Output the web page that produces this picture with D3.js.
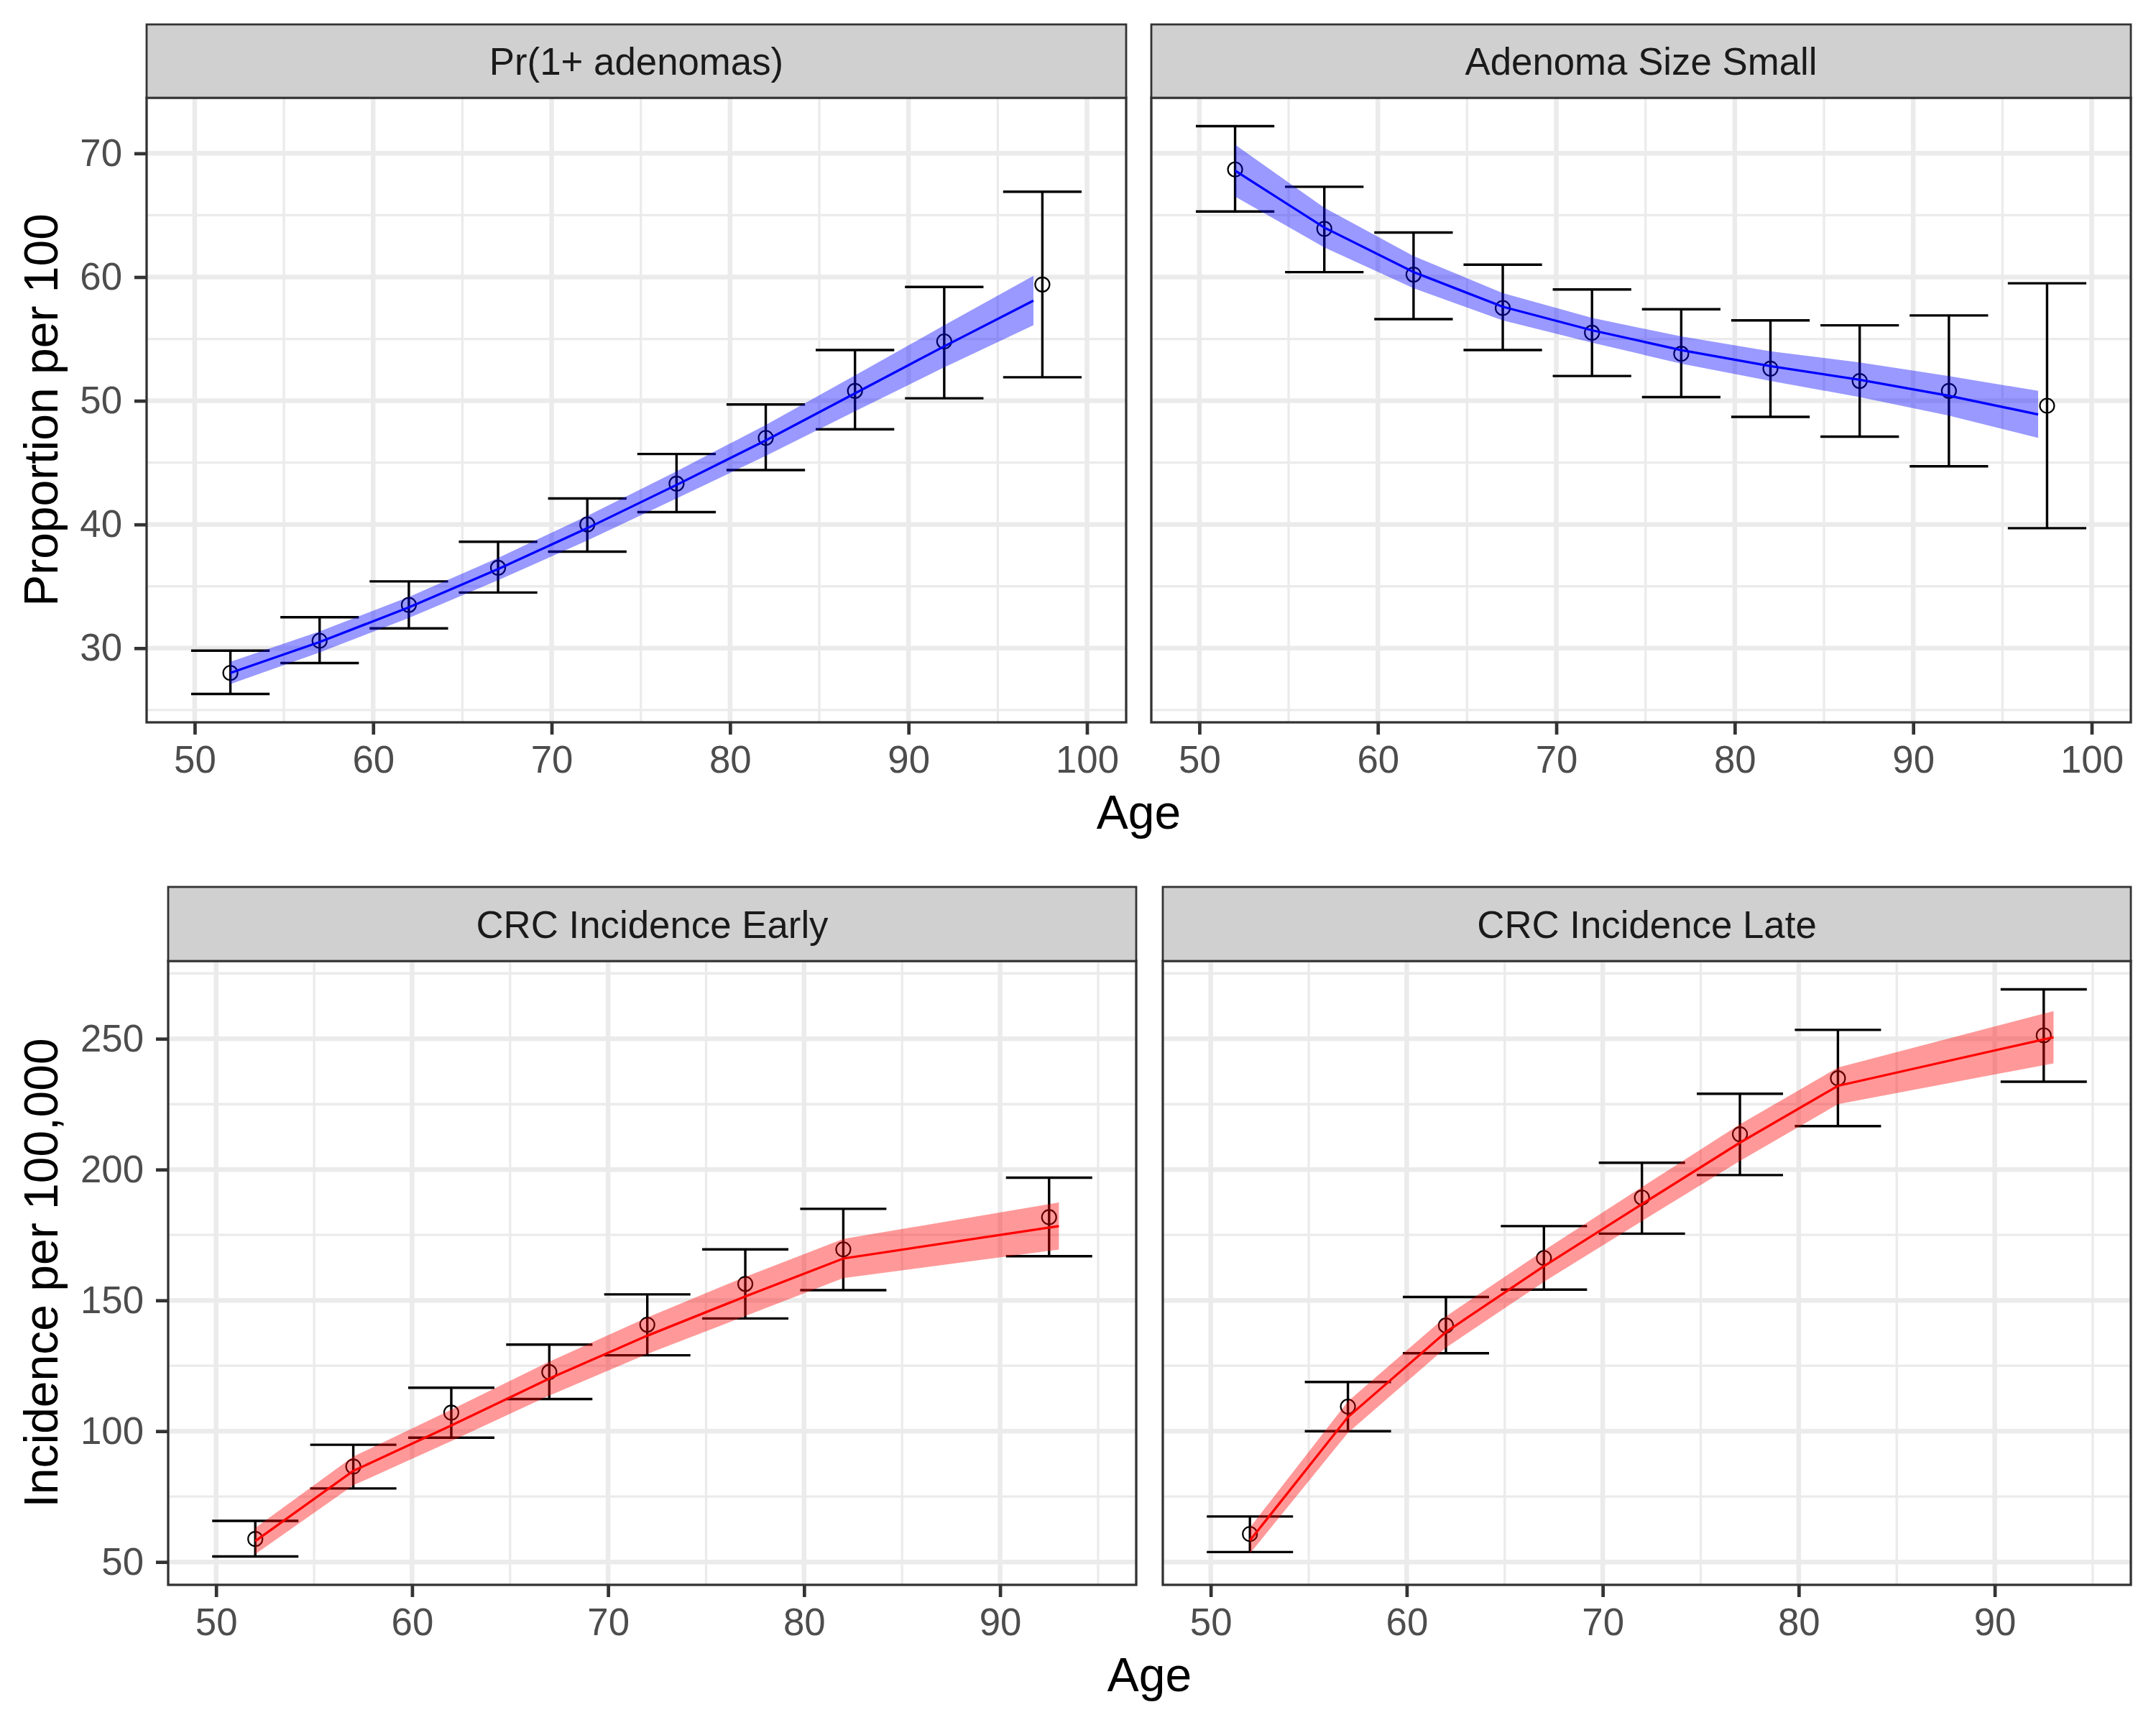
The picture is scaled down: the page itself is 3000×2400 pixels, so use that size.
<!DOCTYPE html>
<html>
<head>
<meta charset="utf-8">
<script src="https://cdn.jsdelivr.net/npm/d3@7"></script>
<style>
  body { margin: 0; background: #fff; }
  text { font-family: "Liberation Sans", Arial, Helvetica, sans-serif; }
</style>
</head>
<body>
<svg id="chart" width="3000" height="2400"></svg>
<script>
// ---- data ----
// top row: observed age groups and model ages
var topObsX = [52, 57, 62, 67, 72, 77, 82, 87, 92, 97.5];
var topFitX = [52, 57, 62, 67, 72, 77, 82, 87, 92, 97];

var adenomaObs = [28.0, 30.6, 33.5, 36.5, 40.0, 43.3, 47.0, 50.8, 54.8, 59.4];
var adenomaLo  = [26.3, 28.8, 31.6, 34.5, 37.8, 41.0, 44.4, 47.7, 50.2, 51.9];
var adenomaHi  = [29.8, 32.5, 35.4, 38.6, 42.1, 45.7, 49.7, 54.1, 59.2, 66.9];
var adenomaFit   = [28.0, 30.5, 33.3, 36.4, 39.7, 43.2, 46.8, 50.6, 54.4, 58.1];
var adenomaFitLo = [27.1, 29.65, 32.45, 35.5, 38.7, 42.1, 45.55, 49.15, 52.7, 56.1];
var adenomaFitHi = [28.9, 31.35, 34.15, 37.3, 40.7, 44.3, 48.05, 52.05, 56.1, 60.1];

var smallObs = [68.7, 63.9, 60.2, 57.5, 55.5, 53.8, 52.6, 51.6, 50.8, 49.6];
var smallLo  = [65.3, 60.4, 56.6, 54.1, 52.0, 50.3, 48.7, 47.1, 44.7, 39.7];
var smallHi  = [72.2, 67.3, 63.6, 61.0, 59.0, 57.4, 56.5, 56.1, 56.9, 59.5];
var smallFit   = [68.6, 64.0, 60.4, 57.6, 55.7, 54.1, 52.8, 51.7, 50.4, 48.9];
var smallFitLo = [66.5, 62.4, 59.1, 56.5, 54.7, 53.0, 51.6, 50.3, 48.8, 47.0];
var smallFitHi = [70.7, 65.6, 61.7, 58.7, 56.7, 55.2, 54.0, 53.1, 52.0, 50.8];

// bottom row
var botObsX = [52, 57, 62, 67, 72, 77, 82, 92.5];
var botFitX = [52, 57, 62, 67, 72, 77, 82, 93];

var earlyObs = [58.8, 86.5, 107.1, 122.6, 140.7, 156.3, 169.5, 181.8];
var earlyLo  = [52.1, 78.1, 97.5, 112.3, 129.0, 143.1, 153.9, 166.9];
var earlyHi  = [65.7, 94.8, 116.6, 133.1, 152.3, 169.5, 185.0, 196.9];
var earlyFit   = [58.0, 84.8, 102.2, 120.1, 136.5, 151.5, 166.0, 178.4];
var earlyFitLo = [53.0, 79.3, 96.2, 113.6, 129.5, 144.0, 158.5, 169.4];
var earlyFitHi = [63.0, 90.3, 108.2, 126.6, 143.5, 159.0, 173.5, 187.4];

var lateObs = [60.7, 109.4, 140.4, 166.2, 189.3, 213.5, 234.9, 251.3];
var lateLo  = [53.8, 100.0, 129.8, 154.1, 175.5, 197.9, 216.6, 233.6];
var lateHi  = [67.4, 118.8, 151.3, 178.4, 202.6, 229.0, 253.4, 268.9];
var lateFit   = [58.2, 105.4, 137.9, 163.1, 186.8, 210.3, 232.0, 250.6];
var lateFitLo = [53.2, 99.4, 131.9, 157.1, 180.3, 203.3, 225.0, 240.6];
var lateFitHi = [63.2, 111.4, 143.9, 169.1, 193.3, 217.3, 239.0, 260.6];

// tick labels
var topXTicks = [50, 60, 70, 80, 90, 100];
var topYTicks = [30, 40, 50, 60, 70];
var botXTicks = [50, 60, 70, 80, 90];
var botYTicks = [50, 100, 150, 200, 250];

var errHalf = 2.2;   // half width of the error bar caps, in years

// ---- layout ----
var svg = d3.select('#chart');
svg.append('rect').attr('width', 3000).attr('height', 2400).attr('fill', '#fff');

var tickFont = 52.8, titleFont = 66;

var rows = [
  {
    stripTop: 34, top: 136, bottom: 1005,
    boxes: [[204, 1567], [1602, 2965]],
    obsX: topObsX, fitX: topFitX, xTicks: topXTicks, yTicks: topYTicks,
    yTitle: 'Proportion per 100', colour: '#0000FF',
    facets: [
      {name: 'Pr(1+ adenomas)', obs: adenomaObs, lo: adenomaLo, hi: adenomaHi, fit: adenomaFit, fitLo: adenomaFitLo, fitHi: adenomaFitHi},
      {name: 'Adenoma Size Small', obs: smallObs, lo: smallLo, hi: smallHi, fit: smallFit, fitLo: smallFitLo, fitHi: smallFitHi}
    ]
  },
  {
    stripTop: 1234, top: 1337, bottom: 2205,
    boxes: [[234, 1581], [1618, 2965]],
    obsX: botObsX, fitX: botFitX, xTicks: botXTicks, yTicks: botYTicks,
    yTitle: 'Incidence per 100,000', colour: '#FF0000',
    facets: [
      {name: 'CRC Incidence Early', obs: earlyObs, lo: earlyLo, hi: earlyHi, fit: earlyFit, fitLo: earlyFitLo, fitHi: earlyFitHi},
      {name: 'CRC Incidence Late', obs: lateObs, lo: lateLo, hi: lateHi, fit: lateFit, fitLo: lateFitLo, fitHi: lateFitHi}
    ]
  }
];

// ggplot style 5% expansion of the data range
function expand(ext) {
  var d = (ext[1] - ext[0]) * 0.05;
  return [ext[0] - d, ext[1] + d];
}

// minor breaks sit half way between the majors
function minorTicks(major, domain) {
  var step = major[1] - major[0];
  var out = [];
  for (var v = major[0] - step / 2; v <= domain[1]; v += step) {
    if (v >= domain[0]) out.push(v);
  }
  return out;
}

function styleAxis(g) {
  g.attr('font-size', null).attr('font-family', null);
  g.select('.domain').remove();
  g.selectAll('.tick line').attr('stroke', '#333333').attr('stroke-width', 4.7);
  g.selectAll('.tick text').attr('fill', '#4D4D4D').style('font-size', tickFont + 'px');
}

rows.forEach(function(row) {
  var xDomain = expand([d3.min(row.obsX) - errHalf, d3.max(row.obsX) + errHalf]);
  var allLo = [], allHi = [];
  row.facets.forEach(function(f) {
    allLo = allLo.concat(f.lo, f.fitLo);
    allHi = allHi.concat(f.hi, f.fitHi);
  });
  var yDomain = expand([d3.min(allLo), d3.max(allHi)]);

  row.facets.forEach(function(f, fi) {
    var box = row.boxes[fi];
    var x = d3.scaleLinear().domain(xDomain).range([box[0], box[1]]);
    var y = d3.scaleLinear().domain(yDomain).range([row.bottom, row.top]);
    var g = svg.append('g');

    // grid
    g.selectAll('line.minor-x').data(minorTicks(row.xTicks, xDomain)).enter().append('line')
      .attr('x1', function(d) { return x(d); }).attr('x2', function(d) { return x(d); })
      .attr('y1', row.top).attr('y2', row.bottom)
      .attr('stroke', '#EBEBEB').attr('stroke-width', 3.3);
    g.selectAll('line.minor-y').data(minorTicks(row.yTicks, yDomain)).enter().append('line')
      .attr('y1', function(d) { return y(d); }).attr('y2', function(d) { return y(d); })
      .attr('x1', box[0]).attr('x2', box[1])
      .attr('stroke', '#EBEBEB').attr('stroke-width', 3.3);
    g.selectAll('line.major-x').data(row.xTicks).enter().append('line')
      .attr('x1', function(d) { return x(d); }).attr('x2', function(d) { return x(d); })
      .attr('y1', row.top).attr('y2', row.bottom)
      .attr('stroke', '#EBEBEB').attr('stroke-width', 6.5);
    g.selectAll('line.major-y').data(row.yTicks).enter().append('line')
      .attr('y1', function(d) { return y(d); }).attr('y2', function(d) { return y(d); })
      .attr('x1', box[0]).attr('x2', box[1])
      .attr('stroke', '#EBEBEB').attr('stroke-width', 6.5);

    // error bars
    var obs = row.obsX.map(function(ax, i) {
      return {x: ax, v: f.obs[i], lo: f.lo[i], hi: f.hi[i]};
    });
    g.selectAll('path.err').data(obs).enter().append('path')
      .attr('d', function(d) {
        var xl = x(d.x - errHalf), xr = x(d.x + errHalf), xc = x(d.x);
        return 'M' + xl + ',' + y(d.hi) + 'H' + xr +
               'M' + xl + ',' + y(d.lo) + 'H' + xr +
               'M' + xc + ',' + y(d.hi) + 'V' + y(d.lo);
      })
      .attr('fill', 'none').attr('stroke', '#000').attr('stroke-width', 3.4);
    g.selectAll('circle').data(obs).enter().append('circle')
      .attr('cx', function(d) { return x(d.x); })
      .attr('cy', function(d) { return y(d.v); })
      .attr('r', 10)
      .attr('fill', 'none').attr('stroke', '#000').attr('stroke-width', 2.2);

    // model ribbon and line
    var fit = row.fitX.map(function(ax, i) {
      return {x: ax, v: f.fit[i], lo: f.fitLo[i], hi: f.fitHi[i]};
    });
    g.append('path').datum(fit)
      .attr('d', d3.area().x(function(d) { return x(d.x); })
        .y0(function(d) { return y(d.lo); }).y1(function(d) { return y(d.hi); }))
      .attr('fill', row.colour).attr('fill-opacity', 0.4);
    g.append('path').datum(fit)
      .attr('d', d3.line().x(function(d) { return x(d.x); }).y(function(d) { return y(d.v); }))
      .attr('fill', 'none').attr('stroke', row.colour).attr('stroke-width', 3.3);

    // panel border
    g.append('rect')
      .attr('x', box[0]).attr('y', row.top)
      .attr('width', box[1] - box[0]).attr('height', row.bottom - row.top)
      .attr('fill', 'none').attr('stroke', '#333333').attr('stroke-width', 3.3);

    // strip
    g.append('rect')
      .attr('x', box[0]).attr('y', row.stripTop)
      .attr('width', box[1] - box[0]).attr('height', row.top - row.stripTop)
      .attr('fill', '#D0D0D0').attr('stroke', '#333333').attr('stroke-width', 2.8);
    g.append('text')
      .attr('x', (box[0] + box[1]) / 2)
      .attr('y', (row.stripTop + row.top) / 2)
      .attr('dy', '0.36em')
      .attr('text-anchor', 'middle')
      .attr('fill', '#1A1A1A')
      .style('font-size', tickFont + 'px')
      .text(f.name);

    // axes
    g.append('g')
      .attr('transform', 'translate(0,' + row.bottom + ')')
      .call(d3.axisBottom(x).tickValues(row.xTicks).tickSize(17).tickPadding(16))
      .call(styleAxis);
    if (fi == 0) {
      g.append('g')
        .attr('transform', 'translate(' + box[0] + ',0)')
        .call(d3.axisLeft(y).tickValues(row.yTicks).tickSize(17).tickPadding(17))
        .call(styleAxis);
    }
  });

  // axis titles
  var left = row.boxes[0][0], right = row.boxes[1][1];
  svg.append('text')
    .attr('x', (left + right) / 2)
    .attr('y', row.bottom + 148)
    .attr('text-anchor', 'middle')
    .attr('fill', '#000')
    .style('font-size', titleFont + 'px')
    .text('Age');
  svg.append('text')
    .attr('transform', 'translate(80,' + (row.top + row.bottom) / 2 + ') rotate(-90)')
    .attr('text-anchor', 'middle')
    .attr('fill', '#000')
    .style('font-size', titleFont + 'px')
    .text(row.yTitle);
});
</script>
</body>
</html>
